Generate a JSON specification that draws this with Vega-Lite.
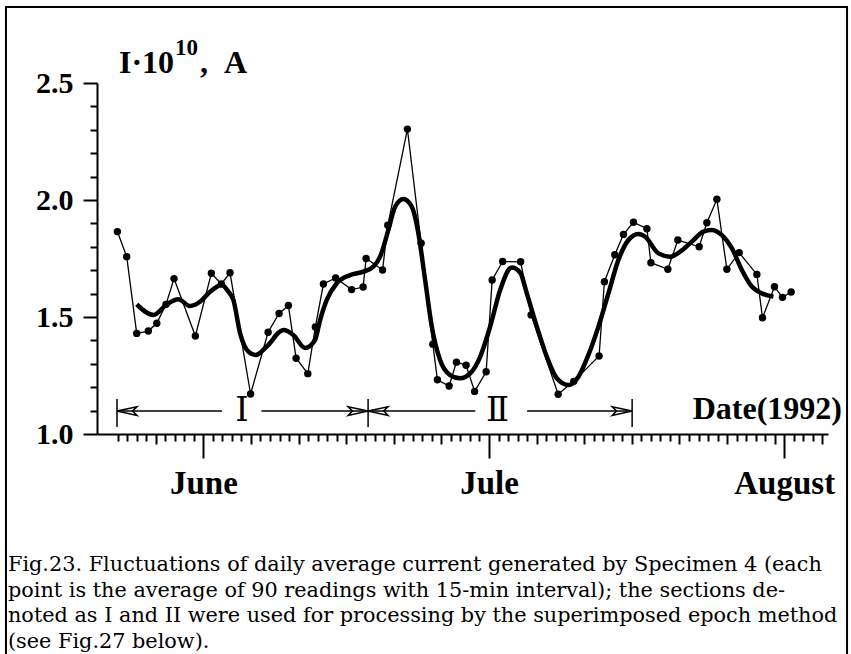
{
  "$schema": "https://vega.github.io/schema/vega-lite/v6.json",
  "autosize": {"type": "none"},
  "padding": {"left": 97, "top": 83, "right": 23, "bottom": 220},
  "width": 731,
  "height": 351,
  "background": "white",
  "config": {
    "view": {"stroke": null},
    "axis": {"domainColor": "black", "domainWidth": 2, "tickColor": "black", "tickWidth": 2, "labelColor": "black", "grid": false, "title": null, "labelFont": "Liberation Serif", "labelFontWeight": "bold"}
  },
  "datasets": {
    "obs": [
      {"d": -9.03, "v": 1.865}, {"d": -8.05, "v": 1.758}, {"d": -7.0, "v": 1.43}, {"d": -5.78, "v": 1.44},
      {"d": -4.89, "v": 1.473}, {"d": -3.92, "v": 1.554}, {"d": -3.08, "v": 1.664}, {"d": -0.84, "v": 1.419},
      {"d": 0.84, "v": 1.687}, {"d": 1.89, "v": 1.641}, {"d": 2.8, "v": 1.689}, {"d": 4.96, "v": 1.171},
      {"d": 6.8, "v": 1.435}, {"d": 7.95, "v": 1.515}, {"d": 8.93, "v": 1.549}, {"d": 9.74, "v": 1.324},
      {"d": 10.97, "v": 1.258}, {"d": 11.76, "v": 1.457}, {"d": 12.61, "v": 1.641}, {"d": 13.89, "v": 1.667},
      {"d": 15.57, "v": 1.617}, {"d": 16.78, "v": 1.628}, {"d": 17.09, "v": 1.75}, {"d": 18.82, "v": 1.701},
      {"d": 19.37, "v": 1.892}, {"d": 21.43, "v": 2.303}, {"d": 22.87, "v": 1.815}, {"d": 24.1, "v": 1.384},
      {"d": 24.58, "v": 1.232}, {"d": 25.81, "v": 1.205}, {"d": 26.58, "v": 1.307}, {"d": 27.59, "v": 1.294},
      {"d": 28.49, "v": 1.182}, {"d": 29.7, "v": 1.266}, {"d": 30.33, "v": 1.658}, {"d": 31.43, "v": 1.737},
      {"d": 33.32, "v": 1.736}, {"d": 34.42, "v": 1.509}, {"d": 37.26, "v": 1.17}, {"d": 38.9, "v": 1.225},
      {"d": 41.56, "v": 1.333}, {"d": 42.12, "v": 1.651}, {"d": 43.21, "v": 1.766}, {"d": 44.12, "v": 1.853},
      {"d": 45.17, "v": 1.905}, {"d": 46.58, "v": 1.877}, {"d": 47.0, "v": 1.732}, {"d": 48.78, "v": 1.704},
      {"d": 49.83, "v": 1.829}, {"d": 52.07, "v": 1.8}, {"d": 52.88, "v": 1.903}, {"d": 53.93, "v": 2.003},
      {"d": 54.98, "v": 1.704}, {"d": 56.27, "v": 1.775}, {"d": 58.13, "v": 1.682}, {"d": 58.72, "v": 1.497},
      {"d": 59.98, "v": 1.629}, {"d": 60.82, "v": 1.584}, {"d": 61.73, "v": 1.607}
    ],
    "smooth": [
      {"d": -7.0, "v": 1.554}, {"d": -5.25, "v": 1.509}, {"d": -3.84, "v": 1.554}, {"d": -2.63, "v": 1.576},
      {"d": -1.4, "v": 1.547}, {"d": -0.35, "v": 1.565}, {"d": 0.7, "v": 1.608}, {"d": 1.93, "v": 1.637},
      {"d": 2.63, "v": 1.608}, {"d": 3.15, "v": 1.573}, {"d": 3.86, "v": 1.43}, {"d": 4.73, "v": 1.352},
      {"d": 5.5, "v": 1.338}, {"d": 6.66, "v": 1.374}, {"d": 8.41, "v": 1.444}, {"d": 9.45, "v": 1.423},
      {"d": 10.68, "v": 1.368}, {"d": 11.73, "v": 1.402}, {"d": 12.26, "v": 1.487}, {"d": 12.96, "v": 1.573},
      {"d": 14.01, "v": 1.644}, {"d": 15.41, "v": 1.679}, {"d": 16.81, "v": 1.694}, {"d": 17.86, "v": 1.715},
      {"d": 18.56, "v": 1.758}, {"d": 19.43, "v": 1.872}, {"d": 20.14, "v": 1.971}, {"d": 21.01, "v": 2.004},
      {"d": 21.89, "v": 1.971}, {"d": 22.58, "v": 1.858}, {"d": 23.29, "v": 1.658}, {"d": 23.99, "v": 1.459},
      {"d": 24.86, "v": 1.316}, {"d": 25.91, "v": 1.252}, {"d": 26.96, "v": 1.238}, {"d": 28.02, "v": 1.259},
      {"d": 29.07, "v": 1.33}, {"d": 30.12, "v": 1.459}, {"d": 31.17, "v": 1.615}, {"d": 32.39, "v": 1.712},
      {"d": 33.27, "v": 1.69}, {"d": 33.97, "v": 1.601}, {"d": 35.02, "v": 1.459}, {"d": 36.07, "v": 1.33},
      {"d": 37.12, "v": 1.238}, {"d": 38.34, "v": 1.209}, {"d": 39.39, "v": 1.245}, {"d": 40.44, "v": 1.338},
      {"d": 41.49, "v": 1.459}, {"d": 42.54, "v": 1.601}, {"d": 43.59, "v": 1.744}, {"d": 44.64, "v": 1.829},
      {"d": 45.69, "v": 1.855}, {"d": 46.4, "v": 1.843}, {"d": 47.79, "v": 1.772}, {"d": 49.02, "v": 1.758},
      {"d": 50.07, "v": 1.779}, {"d": 51.3, "v": 1.822}, {"d": 52.52, "v": 1.865}, {"d": 53.4, "v": 1.872},
      {"d": 54.45, "v": 1.85}, {"d": 55.5, "v": 1.794}, {"d": 56.55, "v": 1.701}, {"d": 57.6, "v": 1.63},
      {"d": 58.66, "v": 1.601}, {"d": 59.87, "v": 1.587}
    ]
  },
  "layer": [
    {
      "data": {"name": "obs"},
      "mark": {"type": "line", "color": "black", "strokeWidth": 1.3},
      "encoding": {
        "x": {
          "field": "d", "type": "quantitative",
          "scale": {"domain": [-11.17, 65.6], "nice": false, "zero": false},
          "axis": {
            "values": [-9,-8,-7,-6,-5,-4,-3,-2,-1,0,1,2,3,4,5,6,7,8,9,10,11,12,13,14,15,16,17,18,19,20,21,22,23,24,25,26,27,28,29,30,31,32,33,34,35,36,37,38,39,40,41,42,43,44,45,46,47,48,49,50,51,52,53,54,55,56,57,58,59,60,61,62,63,64,65],
            "tickCount": 500,
            "labelExpr": "datum.value == 0 ? 'June' : datum.value == 30 ? 'Jule' : datum.value == 61 ? 'August' : ''",
            "tickSize": {"condition": [{"test": "datum.value == 0 || datum.value == 30 || datum.value == 61", "value": 24}, {"test": "datum.value % 5 == 0", "value": 10}], "value": 7},
            "labelFontSize": 33, "labelPadding": 9, "labelOverlap": false, "labelFlush": false, "labelBound": false
          }
        },
        "y": {
          "field": "v", "type": "quantitative",
          "scale": {"domain": [1.0, 2.5], "nice": false, "zero": false},
          "axis": {
            "values": [1.0,1.1,1.2,1.3,1.4,1.5,1.6,1.7,1.8,1.9,2.0,2.1,2.2,2.3,2.4,2.5],
            "tickCount": 500,
            "labelExpr": "round(datum.value*10) % 5 == 0 ? format(datum.value, '.1f') : ''",
            "tickSize": {"condition": {"test": "round(datum.value*10) % 5 == 0", "value": 14}, "value": 7},
            "labelFontSize": 30, "labelPadding": 10, "labelOverlap": false, "labelBaseline": "middle", "labelFlush": false, "labelBound": false
          }
        }
      }
    },
    {
      "data": {"name": "obs"},
      "mark": {"type": "point", "filled": true, "color": "black", "size": 55, "opacity": 1},
      "encoding": {"x": {"field": "d", "type": "quantitative"}, "y": {"field": "v", "type": "quantitative"}}
    },
    {
      "data": {"name": "smooth"},
      "mark": {"type": "line", "color": "black", "strokeWidth": 4.5, "interpolate": "monotone"},
      "encoding": {"x": {"field": "d", "type": "quantitative"}, "y": {"field": "v", "type": "quantitative"}}
    },
    {
      "data": {"values": [{}]},
      "mark": {"type": "rect", "fill": null, "fillOpacity": 0, "stroke": "black", "strokeWidth": 2},
      "encoding": {"x": {"datum": -20.73}, "x2": {"datum": 67.6}, "y": {"datum": 2.825}, "y2": {"datum": 0.04}}
    },
    {
      "data": {"values": [{}]},
      "mark": {"type": "rule", "color": "black", "strokeWidth": 1.5},
      "encoding": {"x": {"datum": -9.07}, "x2": {"datum": 1.95}, "y": {"datum": 1.098}}
    },
    {
      "data": {"values": [{}]},
      "mark": {"type": "rule", "color": "black", "strokeWidth": 1.5},
      "encoding": {"x": {"datum": 6.1}, "x2": {"datum": 17.3}, "y": {"datum": 1.098}}
    },
    {
      "data": {"values": [{}]},
      "mark": {"type": "rule", "color": "black", "strokeWidth": 1.5},
      "encoding": {"x": {"datum": 17.3}, "x2": {"datum": 28.55}, "y": {"datum": 1.098}}
    },
    {
      "data": {"values": [{}]},
      "mark": {"type": "rule", "color": "black", "strokeWidth": 1.5},
      "encoding": {"x": {"datum": 34.0}, "x2": {"datum": 45.03}, "y": {"datum": 1.098}}
    },
    {
      "data": {"values": [{}]},
      "mark": {"type": "rule", "color": "black", "strokeWidth": 1.5},
      "encoding": {"x": {"datum": -9.07}, "y": {"datum": 1.03}, "y2": {"datum": 1.15}}
    },
    {
      "data": {"values": [{}]},
      "mark": {"type": "rule", "color": "black", "strokeWidth": 1.5},
      "encoding": {"x": {"datum": 17.3}, "y": {"datum": 1.03}, "y2": {"datum": 1.15}}
    },
    {
      "data": {"values": [{}]},
      "mark": {"type": "rule", "color": "black", "strokeWidth": 1.5},
      "encoding": {"x": {"datum": 45.03}, "y": {"datum": 1.03}, "y2": {"datum": 1.15}}
    },
    {
      "data": {"values": [{}]},
      "mark": {"type": "point", "shape": "M0,0L1,-0.22L0.78,0L1,0.22Z", "filled": false, "stroke": "black", "strokeWidth": 1.5, "size": 1600, "opacity": 1},
      "encoding": {"x": {"datum": -9.07}, "y": {"datum": 1.098}}
    },
    {
      "data": {"values": [{}]},
      "mark": {"type": "point", "shape": "M0,0L-1,-0.22L-0.78,0L-1,0.22Z", "filled": false, "stroke": "black", "strokeWidth": 1.5, "size": 1600, "opacity": 1},
      "encoding": {"x": {"datum": 17.3}, "y": {"datum": 1.098}}
    },
    {
      "data": {"values": [{}]},
      "mark": {"type": "point", "shape": "M0,0L1,-0.22L0.78,0L1,0.22Z", "filled": false, "stroke": "black", "strokeWidth": 1.5, "size": 1600, "opacity": 1},
      "encoding": {"x": {"datum": 17.3}, "y": {"datum": 1.098}}
    },
    {
      "data": {"values": [{}]},
      "mark": {"type": "point", "shape": "M0,0L-1,-0.22L-0.78,0L-1,0.22Z", "filled": false, "stroke": "black", "strokeWidth": 1.5, "size": 1600, "opacity": 1},
      "encoding": {"x": {"datum": 45.03}, "y": {"datum": 1.098}}
    },
    {
      "data": {"values": [{}]},
      "mark": {"type": "text", "text": "Ⅰ", "font": "DejaVu Serif", "fontSize": 34, "align": "center", "baseline": "middle", "color": "black"},
      "encoding": {"x": {"datum": 4.06}, "y": {"datum": 1.098}}
    },
    {
      "data": {"values": [{}]},
      "mark": {"type": "text", "text": "Ⅱ", "font": "DejaVu Serif", "fontSize": 34, "align": "center", "baseline": "middle", "color": "black"},
      "encoding": {"x": {"datum": 30.9}, "y": {"datum": 1.098}}
    },
    {
      "data": {"values": [{}]},
      "mark": {"type": "text", "text": "Date(1992)", "font": "Liberation Serif", "fontWeight": "bold", "fontSize": 32, "align": "right", "baseline": "alphabetic", "color": "black"},
      "encoding": {"x": {"datum": 67.07}, "y": {"datum": 1.064}}
    },
    {
      "data": {"values": [{}]},
      "mark": {"type": "text", "text": "I·10", "font": "Liberation Serif", "fontWeight": "bold", "fontSize": 32, "align": "left", "baseline": "alphabetic", "color": "black"},
      "encoding": {"x": {"datum": -8.86}, "y": {"datum": 2.543}}
    },
    {
      "data": {"values": [{}]},
      "mark": {"type": "text", "text": "10", "font": "Liberation Serif", "fontWeight": "bold", "fontSize": 23, "align": "left", "baseline": "alphabetic", "color": "black"},
      "encoding": {"x": {"datum": -2.99}, "y": {"datum": 2.62}}
    },
    {
      "data": {"values": [{}]},
      "mark": {"type": "text", "text": ", \u00a0A", "font": "Liberation Serif", "fontWeight": "bold", "fontSize": 32, "align": "left", "baseline": "alphabetic", "color": "black"},
      "encoding": {"x": {"datum": -0.35}, "y": {"datum": 2.543}}
    },
    {
      "data": {"values": [{}]},
      "mark": {"type": "text", "text": ["Fig.23. Fluctuations of daily average current generated by Specimen 4 (each", "point is the average of 90 readings with 15-min interval); the sections de-", "noted as I and II were used for processing by the superimposed epoch method", "(see Fig.27 below)."], "font": "DejaVu Serif", "fontSize": 20.8, "lineHeight": 25.5, "align": "left", "baseline": "alphabetic", "color": "black"},
      "encoding": {"x": {"datum": -20.52}, "y": {"datum": 0.4145}}
    }
  ]
}
